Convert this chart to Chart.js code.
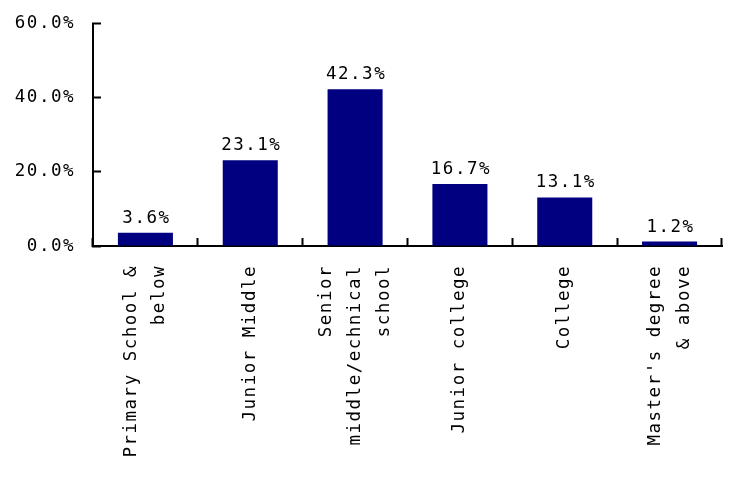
<!DOCTYPE html>
<html>
<head>
<meta charset="utf-8">
<script src="https://cdn.jsdelivr.net/npm/chart.js@4/dist/chart.umd.min.js"></script>
<style>
  html, body { margin: 0; padding: 0; background: #fff; }
  #wrap { width: 746px; height: 486px; }
</style>
</head>
<body>
<div id="wrap"><canvas id="c"></canvas></div>
<script>
// Education level of respondents (share, %)
const categories = [
  ['Primary School &', 'below'],
  'Junior Middle',
  ['Senior', 'middle/echnical', 'school'],
  'Junior college',
  'College',
  ["Master's degree", '& above']
];
const shares = [3.6, 23.1, 42.3, 16.7, 13.1, 1.2];
const yTicks = [0, 20, 40, 60];
const yTickLabels = ['0.0%', '20.0%', '40.0%', '60.0%'];

const FONT = { family: "'DejaVu Sans Mono', 'Liberation Mono', monospace", size: 17.5, lineHeight: 1.65 };
const TRACKING = '1.5px';

// wide, evenly spaced glyphs for every piece of text on the canvas
const tracking = {
  id: 'tracking',
  beforeInit(c) { c.ctx.letterSpacing = TRACKING; },
  beforeUpdate(c) { c.ctx.letterSpacing = TRACKING; },
  beforeLayout(c) { c.ctx.letterSpacing = TRACKING; },
  beforeDraw(c) { c.ctx.letterSpacing = TRACKING; }
};

// centre multi-line rotated category labels on their tick
const centerLines = {
  id: 'centerLines',
  beforeDraw(c) {
    const items = c.scales.x.getLabelItems();
    items.forEach(it => {
      if (it._centred) return;
      const n = Array.isArray(it.label) ? it.label.length : 1;
      it.textOffset -= (n - 1) * it.font.lineHeight / 2;
      it._centred = true;
    });
  }
};

// percentage printed above each bar
const valueLabels = {
  id: 'valueLabels',
  afterDatasetsDraw(c) {
    const ctx = c.ctx;
    const meta = c.getDatasetMeta(0);
    ctx.save();
    ctx.letterSpacing = TRACKING;
    ctx.font = `${FONT.size}px ${FONT.family}`;
    ctx.fillStyle = '#000';
    ctx.textAlign = 'center';
    ctx.textBaseline = 'alphabetic';
    meta.data.forEach((bar, i) => {
      ctx.fillText(shares[i].toFixed(1) + '%', bar.x + 1, bar.y - 10);
    });
    ctx.restore();
  }
};

new Chart(document.getElementById('c'), {
  type: 'bar',
  data: {
    labels: categories,
    datasets: [{
      data: shares,
      backgroundColor: '#000080',
      borderWidth: 0,
      barPercentage: 0.525,
      categoryPercentage: 1
    }]
  },
  options: {
    responsive: true,
    maintainAspectRatio: false,
    animation: false,
    events: [],
    layout: { padding: { left: 0, top: 23.5, right: 24, bottom: 0 } },
    plugins: { legend: { display: false }, tooltip: { enabled: false } },
    scales: {
      x: {
        offset: true,
        grid: { offset: true, drawOnChartArea: false, drawTicks: true, tickLength: -8, tickWidth: 2, tickColor: '#000' },
        border: { display: true, color: '#000', width: 2 },
        ticks: { minRotation: 90, maxRotation: 90, autoSkip: false, padding: 27, color: '#000', font: FONT },
        afterFit(s) { s.height = 240; s.paddingLeft = 0; s.paddingRight = 0; }
      },
      y: {
        min: yTicks[0],
        max: yTicks[yTicks.length - 1],
        afterBuildTicks(s) { s.ticks = yTicks.map(v => ({ value: v })); },
        grid: { drawOnChartArea: false, drawTicks: true, tickLength: -8, tickWidth: 2, tickColor: '#000' },
        border: { display: true, color: '#000', width: 2 },
        ticks: {
          padding: 26,
          color: '#000',
          font: FONT,
          callback: (v) => yTickLabels[yTicks.indexOf(v)]
        },
        afterFit(s) { s.width = 93; s.paddingTop = 0; s.paddingBottom = 0; }
      }
    }
  },
  plugins: [tracking, centerLines, valueLabels]
});
</script>
</body>
</html>
